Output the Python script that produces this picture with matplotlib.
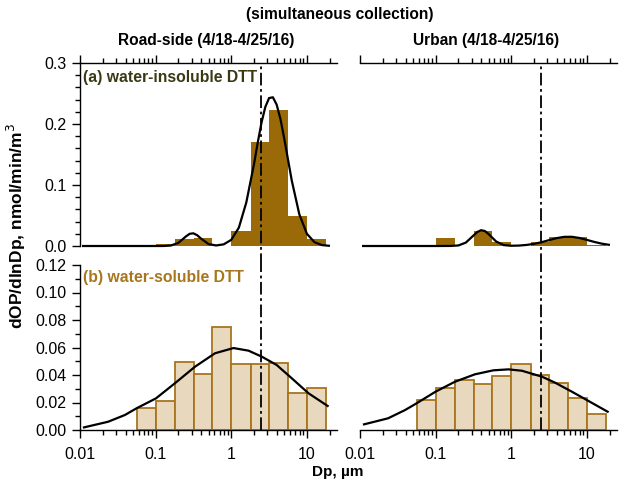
import matplotlib
matplotlib.use("Agg")
import matplotlib.pyplot as plt
import matplotlib.ticker as ticker

plt.rcParams['font.family'] = ['Liberation Sans', 'DejaVu Sans']

# size bin edges (um), 10 stages
bin_edges = [0.056, 0.1, 0.18, 0.32, 0.56, 1.0, 1.8, 3.2, 5.6, 10, 18]

# measured dOP/dlnDp per bin
road_insol = [0.002, 0.003, 0.011, 0.0125, 0.0, 0.0246, 0.170, 0.223, 0.050, 0.011]
urban_insol = [0.0016, 0.0136, 0.0, 0.0246, 0.006, 0.0, 0.007, 0.0148, 0.0148, 0.002]
road_sol = [0.0162, 0.0213, 0.0497, 0.0405, 0.0747, 0.0482, 0.0482, 0.049, 0.0267, 0.0303]
urban_sol = [0.0216, 0.0303, 0.0364, 0.0337, 0.0395, 0.048, 0.040, 0.0342, 0.023, 0.0114]

# fitted curves
road_insol_fit_x = [0.011, 0.0316, 0.1, 0.126, 0.158, 0.2, 0.251, 0.282, 0.316, 0.355, 0.398,
                    0.501, 0.631, 0.794, 1.0, 1.26, 1.58, 2.0, 2.24, 2.51, 2.82, 3.16, 3.55,
                    3.98, 4.47, 5.01, 6.31, 7.94, 10, 12.6, 15.8, 19.5]
road_insol_fit_y = [0, 0, 0, 0, 0.0007, 0.0051, 0.0156, 0.020, 0.0208, 0.0176, 0.0122,
                    0.0031, 0.0009, 0.0027, 0.0101, 0.0301, 0.0713, 0.1345, 0.1697, 0.2023,
                    0.2279, 0.2425, 0.2438, 0.2318, 0.2081, 0.1765, 0.1072, 0.0519, 0.020,
                    0.0062, 0.0015, 0.0004]

urban_insol_fit_x = [0.011, 0.0316, 0.1, 0.158, 0.2, 0.251, 0.316, 0.355, 0.398, 0.447, 0.501,
                     0.631, 0.794, 1.0, 1.26, 1.58, 2.0, 2.51, 3.16, 3.98, 5.01, 6.31, 7.94,
                     10, 12.6, 15.8, 19.5]
urban_insol_fit_y = [0, 0, 0, 0.0001, 0.0009, 0.0056, 0.0171, 0.0229, 0.0259, 0.0246, 0.0196,
                     0.0074, 0.0015, 0.0004, 0.0007, 0.0017, 0.0035, 0.0062, 0.0096, 0.0129,
                     0.015, 0.0151, 0.0132, 0.010, 0.0066, 0.0038, 0.002]

road_sol_fit_x = [0.0113, 0.0235, 0.0392, 0.056, 0.101, 0.180, 0.331, 0.609, 1.07, 1.69,
                  2.54, 3.98, 6.31, 10.5, 18.8]
road_sol_fit_y = [0.0019, 0.006, 0.0109, 0.0158, 0.023, 0.034, 0.046, 0.0558, 0.0596, 0.0577,
                  0.0533, 0.0473, 0.0376, 0.0267, 0.0175]

urban_sol_fit_x = [0.0113, 0.0235, 0.0394, 0.056, 0.1, 0.180, 0.331, 0.579, 0.916, 1.38,
                   2.54, 3.80, 6.31, 10.5, 18.8]
urban_sol_fit_y = [0.0041, 0.0085, 0.0145, 0.0194, 0.0279, 0.0351, 0.0405, 0.0434, 0.0441,
                   0.0431, 0.0388, 0.0344, 0.0279, 0.0211, 0.0133]

pm_cut = 2.5
xticks = [0.01, 0.1, 1, 10]
xticklabels = ["0.01", "0.1", "1", "10"]

dark_brown = "#9b6a08"
tan_fill = "#e8d8bd"
tan_edge = "#a7751c"
label_a_col = "#3a3914"
label_b_col = "#a7761d"

W, H = 625, 495
fig = plt.figure(figsize=(6.25, 4.95), dpi=100)


def box(x0, y0, x1, y1):
    return [x0 / W, 1 - y1 / H, (x1 - x0) / W, (y1 - y0) / H]


ax_a1 = fig.add_axes(box(80, 63, 337, 246))
ax_a2 = fig.add_axes(box(360, 63, 617, 246))
ax_b1 = fig.add_axes(box(80, 265, 337, 430))
ax_b2 = fig.add_axes(box(360, 265, 617, 430))

lefts = bin_edges[:-1]
widths = [bin_edges[i + 1] - bin_edges[i] for i in range(len(lefts))]

for ax, vals in [(ax_a1, road_insol), (ax_a2, urban_insol)]:
    ax.bar(lefts, vals, width=widths, align="edge", color=dark_brown, linewidth=0)
for ax, vals in [(ax_b1, road_sol), (ax_b2, urban_sol)]:
    ax.bar(lefts, vals, width=widths, align="edge", color=tan_fill,
           edgecolor=tan_edge, linewidth=1.3)

ax_a1.plot(road_insol_fit_x, road_insol_fit_y, color="black", lw=1.6, clip_on=False)
ax_a2.plot(urban_insol_fit_x, urban_insol_fit_y, color="black", lw=1.6, clip_on=False)
ax_b1.plot(road_sol_fit_x, road_sol_fit_y, color="black", lw=1.6, clip_on=False)
ax_b2.plot(urban_sol_fit_x, urban_sol_fit_y, color="black", lw=1.6, clip_on=False)

dash = (0, (7, 2, 1.5, 2))
for ax in [ax_a1, ax_a2]:
    ax.axvline(pm_cut, ymin=-0.11, ymax=1, color="black", lw=1.3, ls=dash, clip_on=False)
for ax in [ax_b1, ax_b2]:
    ax.axvline(pm_cut, color="black", lw=1.3, ls=dash)

for ax in [ax_a1, ax_a2, ax_b1, ax_b2]:
    ax.set_xscale("log")
    ax.set_xlim(0.01, 25)
    ax.xaxis.set_major_locator(ticker.FixedLocator(xticks))
    ax.xaxis.set_minor_locator(ticker.LogLocator(base=10, subs=range(2, 10)))
    ax.xaxis.set_minor_formatter(ticker.NullFormatter())
    ax.spines["right"].set_visible(False)
    ax.tick_params(which="major", length=6, width=1, labelsize=11.5)
    ax.tick_params(which="minor", length=3.5, width=1)
    for s in ax.spines.values():
        s.set_linewidth(1)

for ax in [ax_a1, ax_a2]:
    ax.set_ylim(0, 0.3)
    ax.spines["bottom"].set_visible(False)
    ax.xaxis.tick_top()
    ax.xaxis.set_major_formatter(ticker.NullFormatter())
    ax.tick_params(axis="x", which="both", direction="out", top=True, bottom=False)
    ax.yaxis.set_major_locator(ticker.MultipleLocator(0.1))
    ax.yaxis.set_minor_locator(ticker.MultipleLocator(0.02))
    ax.yaxis.set_major_formatter(ticker.FormatStrFormatter("%.1f"))

for ax in [ax_b1, ax_b2]:
    ax.set_ylim(0, 0.12)
    ax.spines["top"].set_visible(False)
    ax.xaxis.set_major_formatter(ticker.FixedFormatter(xticklabels))
    ax.tick_params(axis="x", which="both", top=False)
    ax.tick_params(axis="x", which="major", pad=6)
    ax.yaxis.set_major_locator(ticker.MultipleLocator(0.02))
    ax.yaxis.set_minor_locator(ticker.MultipleLocator(0.01))
    ax.yaxis.set_major_formatter(ticker.FormatStrFormatter("%.2f"))

for ax in [ax_a2, ax_b2]:
    ax.spines["left"].set_visible(False)
    ax.tick_params(axis="y", which="both", left=False, labelleft=False)

for ax in [ax_a1, ax_b1]:
    ax.tick_params(axis="y", which="both", right=False)

ax_a1.text(0.013, 0.96, "(a) water-insoluble DTT", transform=ax_a1.transAxes,
           color=label_a_col, fontsize=11.3, fontweight="bold", va="top")
ax_b1.text(0.013, 0.97, "(b) water-soluble DTT", transform=ax_b1.transAxes,
           color=label_b_col, fontsize=11.3, fontweight="bold", va="top")

fig.text(340 / W, 1 - 14 / H, "(simultaneous collection)", ha="center", va="center",
         fontsize=11.2, fontweight="bold")
fig.text(206 / W, 1 - 40 / H, "Road-side (4/18-4/25/16)", ha="center", va="center",
         fontsize=11.2, fontweight="bold")
fig.text(486 / W, 1 - 40 / H, "Urban (4/18-4/25/16)", ha="center", va="center",
         fontsize=11.2, fontweight="bold")
fig.text(338 / W, 1 - 472 / H, "Dp, µm", ha="center", va="center",
         fontsize=11, fontweight="bold")
fig.text(16 / W, 1 - 226 / H, "dOP/dlnDp, nmol/min/m$^3$", ha="center", va="center",
         rotation=90, fontsize=12.5, fontweight="bold")

fig.savefig("out.png", dpi=100)
